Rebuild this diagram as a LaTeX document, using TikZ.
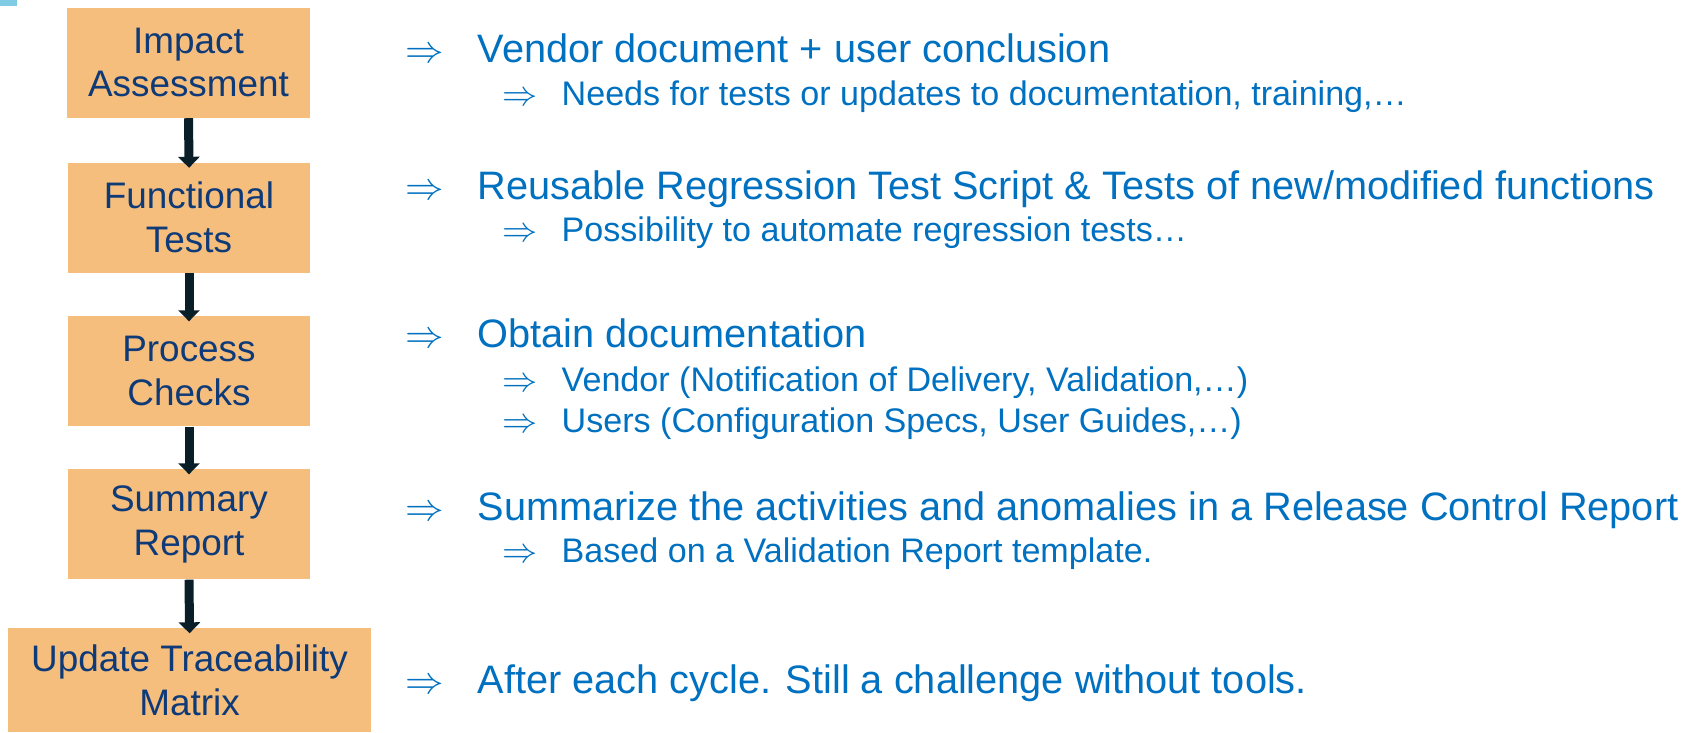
\documentclass[tikz,border=0pt]{standalone}
\usepackage{fontspec}
\setmainfont{Liberation Sans}
\usepackage{xcolor}
\usepackage{tikz}
\usetikzlibrary{positioning, arrows.meta}

\definecolor{boxorange}{RGB}{246,190,125}
\definecolor{boxblue}{RGB}{14,58,120}
\definecolor{textblue}{RGB}{0,112,192}
\definecolor{arrowdark}{RGB}{10,30,40}
\definecolor{markcyan}{RGB}{127,203,227}

\newcommand{\mainimp}{\makebox[0.72cm][l]{$\Rightarrow$}}
\newcommand{\subimp}{\makebox[0.59cm][l]{$\Rightarrow$}}

\begin{document}
\begin{tikzpicture}[
    every node/.style={inner sep=0pt},
    stagebox/.style={rectangle, fill=boxorange, text=boxblue, minimum width=2.42cm, minimum height=1.10cm, align=center, font=\fontsize{10.5}{12.5}\selectfont},
    widebox/.style={stagebox, minimum width=3.63cm, minimum height=1.04cm},
    point/.style={anchor=base west, text=textblue, font=\fontsize{11.3}{13.5}\selectfont},
    subpoint/.style={anchor=base west, text=textblue, font=\fontsize{9.7}{11.5}\selectfont},
    flow/.style={-{Triangle[width=0.21cm, length=0.11cm]}, line width=0.09cm, draw=arrowdark, shorten >=-0.06cm},
]
\useasboundingbox (0,0) rectangle (16.99,-7.32);
\fill[markcyan] (0,0) rectangle (0.17,-0.06);

% Stages
\node[stagebox] (impact) at (1.885,-0.625) {Impact\\Assessment};
\node[stagebox] (functional) at (1.89,-2.175) {Functional\\Tests};
\node[stagebox] (process) at (1.89,-3.71) {Process\\Checks};
\node[stagebox] (summary) at (1.89,-5.24) {Summary\\Report};
\node[widebox] (trace) at (1.895,-6.80) {Update Traceability\\Matrix};

% Arrows between stages
\draw[flow] (impact.south) -- (functional.north);
\draw[flow] (functional.south) -- (process.north);
\draw[flow] (process.south) -- (summary.north);
\draw[flow] (summary.south) -- (trace.north);

% Notes for each stage
\node[point] (impactnote) at (4.05,-0.62) {\mainimp Vendor document + user conclusion};
\node[subpoint] (impactsub) at (5.02,-1.05) {\subimp Needs for tests or updates to documentation, training,\ldots};

\node[point] (functionalnote) at (4.05,-1.99) {\mainimp Reusable Regression Test Script \& Tests of new/modified functions};
\node[subpoint] (functionalsub) at (5.02,-2.41) {\subimp Possibility to automate regression tests\ldots};

\node[point] (processnote) at (4.05,-3.47) {\mainimp Obtain documentation};
\node[subpoint] (processvendor) at (5.02,-3.91) {\subimp Vendor (Notification of Delivery, Validation,\ldots)};
\node[subpoint] (processusers) at (5.02,-4.32) {\subimp Users (Configuration Specs, User Guides,\ldots)};

\node[point] (summarynote) at (4.05,-5.20) {\mainimp Summarize the activities and anomalies in a Release Control Report};
\node[subpoint] (summarysub) at (5.02,-5.62) {\subimp Based on a Validation Report template.};

\node[point] (tracenote) at (4.05,-6.93) {\mainimp After each cycle. Still a challenge without tools.};
\end{tikzpicture}
\end{document}
